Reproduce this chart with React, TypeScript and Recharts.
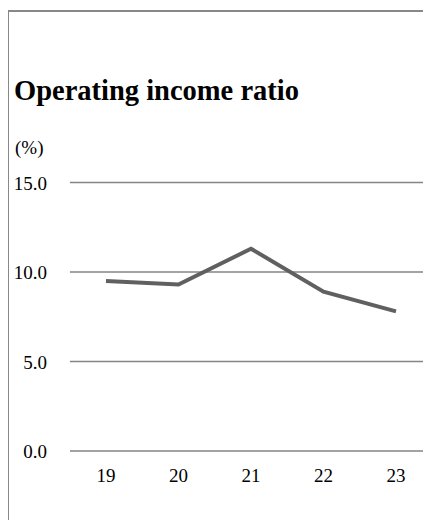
import React from 'react';
import { LineChart, Line, XAxis, YAxis, CartesianGrid } from 'recharts';

const years = ['19', '20', '21', '22', '23'];
const ratio = [9.5, 9.3, 11.3, 8.9, 7.8];
const yTicks = [0, 5, 10, 15];

const data = years.map((y, i) => ({ year: y, ratio: ratio[i] }));

const font = '"Liberation Serif", "Times New Roman", serif';

const YTick = (props: any) => {
  const { y, payload } = props;
  return (
    <text x={39} y={y + 7} textAnchor="end" fontSize={19} fontFamily={font} fill="#000">
      {Number(payload.value).toFixed(1)}
    </text>
  );
};

const XTick = (props: any) => {
  const { x, y, payload } = props;
  return (
    <text x={x} y={y + 31} textAnchor="middle" fontSize={19} fontFamily={font} fill="#000">
      {payload.value}
    </text>
  );
};

export default function App() {
  return (
    <div style={{ position: 'relative', width: 424, height: 512, fontFamily: font }}>
      <LineChart
        width={424}
        height={512}
        data={data}
        margin={{ top: 174.5, right: 0, left: 0, bottom: 29 }}
      >
        <CartesianGrid vertical={false} stroke="#858585" strokeWidth={1.5} />
        <XAxis
          dataKey="year"
          axisLine={false}
          tickLine={false}
          tickSize={0}
          tickMargin={0}
          height={40}
          padding={{ left: 36, right: 36 }}
          tick={<XTick />}
        />
        <YAxis
          domain={[0, 15]}
          ticks={yTicks}
          axisLine={false}
          tickLine={false}
          width={62}
          tick={<YTick />}
        />
        <Line
          dataKey="ratio"
          stroke="#606060"
          strokeWidth={4}
          dot={false}
          type="linear"
          isAnimationActive={false}
        />
      </LineChart>
      <svg
        width={424}
        height={520}
        style={{ position: 'absolute', left: 0, top: 0, pointerEvents: 'none', overflow: 'visible' }}
      >
        <line x1={-1} y1={3} x2={424} y2={3} stroke="#888" strokeWidth={2} />
        <line x1={0} y1={2} x2={0} y2={520} stroke="#888" strokeWidth={2} />
        <text x={6} y={92} fontSize={28.5} fontWeight="bold" fontFamily={font} fill="#000">
          Operating income ratio
        </text>
        <text x={7} y={145.5} fontSize={19} fontFamily={font} fill="#000">
          (%)
        </text>
      </svg>
    </div>
  );
}
